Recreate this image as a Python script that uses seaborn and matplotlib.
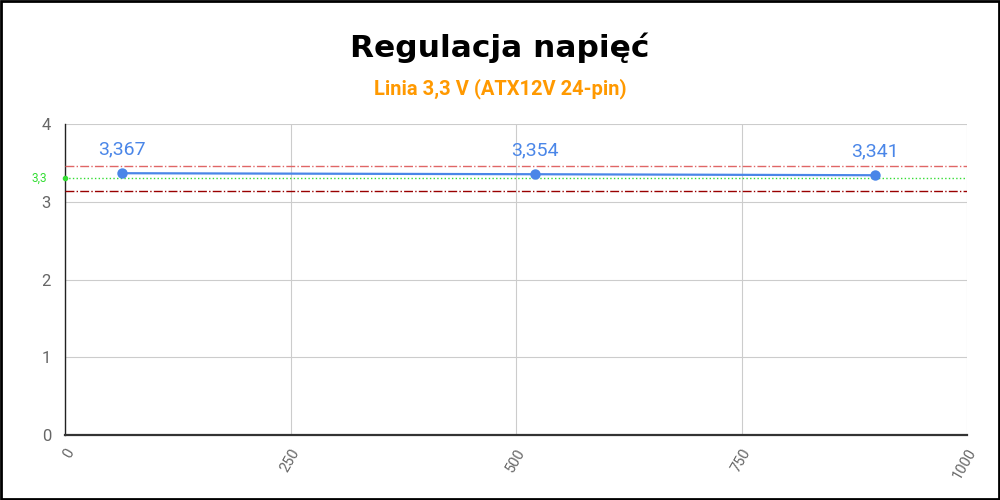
import matplotlib
matplotlib.use("Agg")
import matplotlib.pyplot as plt
import seaborn as sns
import pandas as pd

# Data
load_w = [63, 521, 898]
voltage = [3.367, 3.354, 3.341]
nominal = 3.3
upper_limit = 3.465   # +5%
lower_limit = 3.135   # -5%
x_ticks = [0, 250, 500, 750, 1000]
y_ticks = [0, 1, 2, 3, 4]

df = pd.DataFrame({"load": load_w, "voltage": voltage})

sns.set_style("white")
plt.rcParams["font.family"] = ["Roboto", "DejaVu Sans"]

fig = plt.figure(figsize=(10, 5), dpi=100)
ax = fig.add_axes([0.065, 0.13, 0.902, 0.622])

blue = "#4a86e8"
sns.lineplot(data=df, x="load", y="voltage", ax=ax, color=blue, linewidth=1.6,
             marker="o", markersize=7.5, markeredgewidth=0, zorder=5)

for x, v in zip(load_w, voltage):
    ax.annotate(f"{v:.3f}".replace(".", ","), (x, v), xytext=(0, 11),
                textcoords="offset points", ha="center", va="bottom",
                color=blue, fontsize=14)

# limit lines
ax.axhline(upper_limit, color="#e06666", linestyle="-.", linewidth=1, zorder=3)
ax.axhline(lower_limit, color="#990000", linestyle="-.", linewidth=1, zorder=3)
ax.axhline(nominal, color="#33dd33", linestyle=":", linewidth=1, zorder=3)
ax.plot([0], [nominal], "o", color="#33dd33", markersize=3, clip_on=False, zorder=6)
ax.text(-20, nominal, "3,3", color="#33dd33", fontsize=8.5, ha="right", va="center")

ax.set_xlim(0, 1000)
ax.set_ylim(0, 4)
ax.set_xticks(x_ticks)
ax.set_yticks(y_ticks)
ax.set_xticklabels([str(t) for t in x_ticks], rotation=60, ha="right",
                   rotation_mode="anchor", color="#666666", fontsize=10.5)
ax.set_yticklabels([str(t) for t in y_ticks], color="#666666", fontsize=12)
ax.tick_params(axis="x", length=0, pad=8)
ax.tick_params(axis="y", length=6, color="#cccccc", pad=4)
ax.grid(True, color="#cccccc", linewidth=0.8)
ax.set_axisbelow(True)
ax.set_xlabel("")
ax.set_ylabel("")

for side in ["top", "right"]:
    ax.spines[side].set_visible(False)
ax.spines["left"].set_color("#222222")
ax.spines["left"].set_linewidth(1)
ax.spines["bottom"].set_color("#333333")
ax.spines["bottom"].set_linewidth(1.6)

fig.text(0.5, 0.905, "Regulacja napięć", ha="center", va="center",
         fontsize=22.5, fontweight="heavy", family="DejaVu Sans", color="black")
fig.text(0.5, 0.823, "Linia 3,3 V (ATX12V 24-pin)", ha="center", va="center",
         fontsize=14.5, fontweight="bold", color="#ff9900")

# black frame around the image
fig.patches.append(plt.Rectangle((0.001, 0.002), 0.998, 0.996, transform=fig.transFigure,
                                 fill=False, edgecolor="black", linewidth=2))

fig.savefig("out.png", dpi=100)
